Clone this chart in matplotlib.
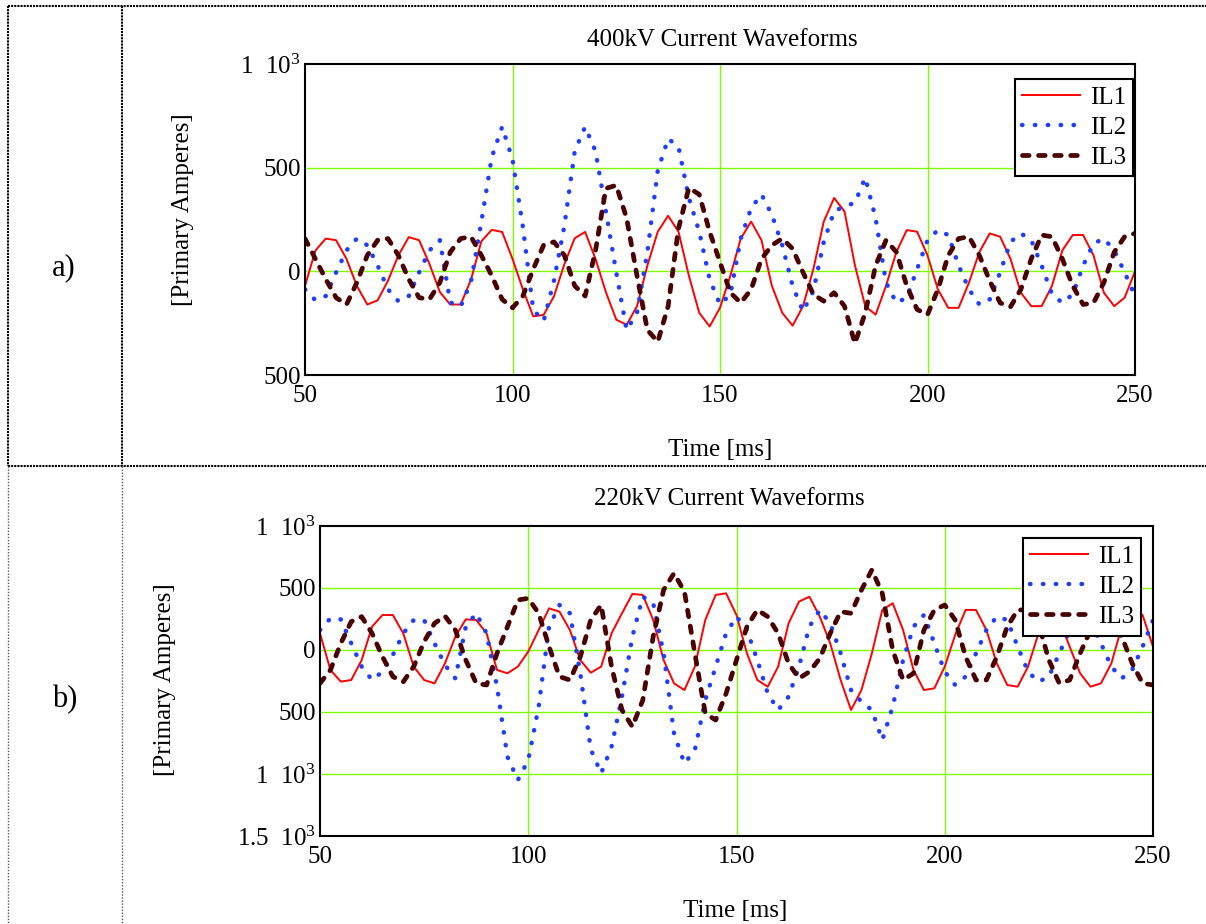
import numpy as np
import matplotlib
matplotlib.use('Agg')
import matplotlib.pyplot as plt
from matplotlib.lines import Line2D

plt.rcParams['font.family'] = ['Liberation Serif', 'DejaVu Serif']
plt.rcParams['mathtext.fontset'] = 'custom'
plt.rcParams['mathtext.rm'] = 'Liberation Serif'
plt.rcParams['mathtext.it'] = 'Liberation Serif:italic'

# time base of the read-off samples [ms]
t = np.arange(50, 250.01, 2.5)

# 400kV waveforms (primary amperes), every 2.5 ms
a_il1 = [-70, 100, 158, 150, 60, -70, -160, -140, -45, 77,
         165, 150, 35, -100, -160, -160, -40, 145, 200, 190,
         60, -87, -217, -210, -120, 35, 160, 190, 60, -100,
         -233, -258, -168, 28, 191, 268, 191, -21, -200, -266,
         -176, -21, 158, 240, 150, -70, -200, -262, -168, 11,
         240, 354, 289, 30, -168, -209, -70, 93, 199, 191,
         77, -87, -176, -176, -54, 93, 183, 167, 60, -103,
         -168, -168, -70, 101, 175, 175, 77, -103, -168, -127,
         0]
a_il2 = [-87, -139, -119, -5, 101, 158, 126, 28, -87, -144,
         -119, -5, 101, 150, -150, -170, -50, 240, 550, 697,
         540, 215, -186, -240, -44, 220, 580, 697, 580, 290,
         -5, -283, -200, 93, 485, 640, 600, 354, 191, -38,
         -160, -111, 158, 305, 371, 273, 126, -70, -193, -95,
         142, 289, 314, 330, 452, 256, -54, -152, -127, 11,
         150, 199, 175, 28, -87, -160, -135, -5, 142, 183,
         150, 28, -111, -152, -111, 28, 134, 158, 101, -5,
         -119]
a_il3 = [158, 60, -38, -127, -160, -54, 77, 150, 158, 77,
         -38, -127, -135, -54, 93, 158, 167, 77, -21, -135,
         -176, -119, 11, 126, 142, 77, -70, -119, 100, 400,
         415, 256, -21, -283, -340, -168, 207, 403, 371, 191,
         44, -103, -152, -87, 60, 126, 158, 109, -5, -111,
         -144, -103, -168, -348, -200, 28, 150, 93, -70, -184,
         -209, -87, 77, 158, 167, 77, -46, -152, -171, -87,
         60, 175, 167, 60, -70, -160, -152, -54, 93, 167,
         183]

# 220kV waveforms
b_il1 = [134, -161, -255, -242, -81, 188, 282, 282, 134, -134,
         -242, -269, -108, 108, 247, 242, 134, -161, -188, -134,
         -13, 161, 336, 309, 161, -81, -183, -134, 134, 296,
         452, 444, 242, -81, -269, -323, -134, 242, 444, 457,
         282, -27, -242, -296, -134, 215, 390, 430, 269, 54,
         -242, -484, -323, -27, 323, 377, 161, -161, -323, -309,
         -134, 121, 323, 323, 161, -108, -282, -296, -134, 134,
         296, 242, 27, -188, -296, -269, -108, 188, 323, 282,
         27]
b_il2 = [161, 255, 247, 54, -134, -242, -175, -40, 134, 242,
         242, 54, -121, -229, 188, 296, 134, -296, -861, -1049,
         -888, -457, 188, 363, 296, -188, -800, -995, -780, -377,
         108, 430, 377, -27, -673, -915, -807, -404, -134, 134,
         269, 161, -81, -350, -484, -377, -134, 188, 323, 215,
         -27, -323, -417, -484, -726, -457, -81, 188, 282, 54,
         -175, -282, -215, -27, 161, 269, 242, 27, -175, -256,
         -215, -27, 161, 269, 242, 54, -134, -229, -161, 27,
         242]
b_il3 = [-269, -161, 54, 229, 269, 134, -54, -215, -256, -134,
         67, 215, 274, 161, -81, -269, -282, -27, 188, 403,
         417, 296, 27, -215, -242, -54, 242, 363, -134, -484,
         -619, -404, 108, 484, 619, 471, -27, -511, -565, -350,
         -81, 188, 323, 269, 134, -108, -229, -175, -67, 134,
         309, 296, 484, 646, 457, 0, -242, -188, 161, 323,
         363, 242, -54, -242, -242, -54, 188, 323, 323, 215,
         -81, -269, -242, -27, 161, 269, 242, 108, -108, -269,
         -282]

series_names = ['IL1', 'IL2', 'IL3']
x_ticks = [50, 100, 150, 200, 250]
a_yticks = [1000, 500, 0, -500]
a_ylabels = ['1  $\\mathregular{10^3}$', '500', '0', '500']
b_yticks = [1000, 500, 0, -500, -1000, -1500]
b_ylabels = ['1  $\\mathregular{10^3}$', '500', '0', '500',
             '1  $\\mathregular{10^3}$', '1.5  $\\mathregular{10^3}$']

W, H = 1206, 924
fig = plt.figure(figsize=(W / 100, H / 100), dpi=100)
fs = 18


def px(x, y):
    return x / W, 1 - y / H


def panel(rect, ydata, yticks, ylabels, ylim, ygrid, leg_anchor):
    ax = fig.add_axes(rect)
    ax.plot(t, ydata[0], color='#ff0000', lw=1.4, label=series_names[0])
    ax.plot(t, ydata[1], color='#1f3dff', lw=3.2, ls=(0, (0.1, 2.8)),
            dash_capstyle='round', label=series_names[1])
    ax.plot(t, ydata[2], color='#4a0000', lw=3.4, ls=(0, (1.4, 2.0)),
            dash_capstyle='round', label=series_names[2])
    ax.set_xlim(50, 250)
    ax.set_ylim(*ylim)
    for gx in [100, 150, 200]:
        ax.axvline(gx, color='#7fff00', lw=1.0, zorder=0)
    for gy in ygrid:
        ax.axhline(gy, color='#7fff00', lw=1.0, zorder=0)
    ax.set_xticks(x_ticks)
    ax.set_yticks(yticks)
    ax.set_yticklabels(ylabels)
    ax.tick_params(length=0, labelsize=fs)
    ax.tick_params(axis='x', pad=7)
    ax.tick_params(axis='y', pad=3)
    for s in ax.spines.values():
        s.set_linewidth(1.5)
    leg = ax.legend(loc='upper right', bbox_to_anchor=leg_anchor, borderaxespad=0,
                    fontsize=fs, handlelength=2.3, fancybox=False, framealpha=1,
                    edgecolor='black', borderpad=0.3, labelspacing=0.3,
                    handletextpad=0.4)
    leg.get_frame().set_linewidth(1.5)
    return ax


l, tp = px(305, 64)
r, bt = px(1135, 375)
panel([l, bt, r - l, tp - bt], [a_il1, a_il2, a_il3], a_yticks, a_ylabels,
      (-500, 1000), [0, 500], (0.998, 0.952))

l, tp = px(320, 526)
r, bt = px(1153, 836)
panel([l, bt, r - l, tp - bt], [b_il1, b_il2, b_il3], b_yticks, b_ylabels,
      (-1500, 1000), [500, 0, -500, -1000], (0.986, 0.961))

# titles and axis labels
fig.text(*px(722, 40), '400kV Current Waveforms', ha='center', va='center', fontsize=fs)
fig.text(*px(729, 499), '220kV Current Waveforms', ha='center', va='center', fontsize=fs)
fig.text(*px(720, 450), 'Time [ms]', ha='center', va='center', fontsize=fs)
fig.text(*px(735, 911), 'Time [ms]', ha='center', va='center', fontsize=fs)
fig.text(*px(183, 210), '[Primary Amperes]', ha='center', va='center',
         rotation=90, fontsize=fs)
fig.text(*px(165, 680), '[Primary Amperes]', ha='center', va='center',
         rotation=90, fontsize=fs)
fig.text(*px(64, 268), 'a)', ha='center', va='center', fontsize=22)
fig.text(*px(65, 700), 'b)', ha='center', va='center', fontsize=22)

# table frame (dotted)
dark = dict(color='black', lw=1.5, ls=(0, (1, 0.5)))
light = dict(color='#555555', lw=1.0, ls=(0, (1, 1.2)))
for xs, ys, st in [((8, W), (6, 6), dark),
                   ((8, W), (466, 466), dark),
                   ((8, 8), (6, 466), dark),
                   ((122, 122), (6, 466), dark),
                   ((8, 8), (466, H), light),
                   ((122, 122), (466, H), light)]:
    fig.add_artist(Line2D([x / W for x in xs], [1 - y / H for y in ys], **st))

fig.savefig('out.png', dpi=100)
